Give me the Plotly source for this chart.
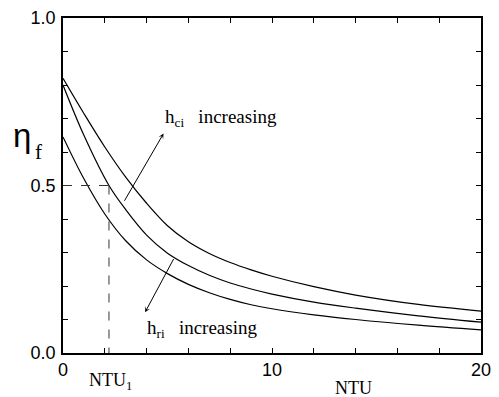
import plotly.graph_objects as go

# Fin efficiency eta_f versus NTU for three parameter combinations
ntu_top = [0, 1, 2, 3, 4, 5, 6, 7, 8, 9, 10, 12, 14, 17, 20]
eta_top = [0.82, 0.715, 0.615, 0.525, 0.447, 0.380, 0.332, 0.297, 0.270, 0.248, 0.229, 0.198, 0.173, 0.145, 0.125]

ntu_mid = [0, 1, 2.2, 3, 4, 5, 6, 7, 8, 9, 10, 12, 14, 17, 20]
eta_mid = [0.80, 0.65, 0.50, 0.428, 0.352, 0.298, 0.261, 0.232, 0.209, 0.191, 0.176, 0.152, 0.134, 0.111, 0.092]

ntu_low = [0, 1, 2, 3, 4, 5, 6, 7, 8, 9, 10, 12, 14, 17, 20]
eta_low = [0.645, 0.52, 0.415, 0.335, 0.278, 0.237, 0.205, 0.180, 0.160, 0.144, 0.132, 0.114, 0.100, 0.083, 0.069]

# Operating point marked with dashed guides
ntu_1 = 2.2
eta_1 = 0.5

# Tick positions and labels
x_tickvals = [0, 2, 4, 6, 8, 10, 12, 14, 16, 18, 20]
x_ticktext = ["0", "", "", "", "", "10", "", "", "", "", "20"]
y_tickvals = [0.0, 0.1, 0.2, 0.3, 0.4, 0.5, 0.6, 0.7, 0.8, 0.9, 1.0]
y_ticktext = ["0.0", "", "", "", "", "0.5", "", "", "", "", "1.0"]

W, H = 499, 397
L, R, T, B = 63, 8, 18, 44
PW, PH = W - L - R, H - T - B


def paper(px, py):
    """Convert a pixel position on the page to paper coordinates."""
    return (px - L) / PW, (H - B - py) / PH


fig = go.Figure()
for xs, ys in [(ntu_top, eta_top), (ntu_mid, eta_mid), (ntu_low, eta_low)]:
    fig.add_trace(go.Scatter(
        x=xs, y=ys, mode="lines",
        line=dict(color="black", width=1.2, shape="spline", smoothing=1.0),
        showlegend=False, hoverinfo="skip",
    ))

dash_line = dict(color="#333333", width=1, dash="dash")
fig.add_shape(type="line", x0=0, y0=eta_1, x1=ntu_1, y1=eta_1, line=dash_line)
fig.add_shape(type="line", x0=ntu_1, y0=eta_1, x1=ntu_1, y1=0, line=dash_line)

serif = "Liberation Serif, Times New Roman, serif"
sans = "Liberation Sans, Arial, sans-serif"

# Direction arrows
fig.add_annotation(x=4.81, y=0.655, ax=2.9, ay=0.45, xref="x", yref="y",
                   axref="x", ayref="y", showarrow=True, arrowhead=3,
                   arrowsize=0.9, arrowwidth=1, arrowcolor="black", text="")
fig.add_annotation(x=3.93, y=0.122, ax=5.33, ay=0.285, xref="x", yref="y",
                   axref="x", ayref="y", showarrow=True, arrowhead=3,
                   arrowsize=0.9, arrowwidth=1, arrowcolor="black", text="")

# Curve-family labels
x, y = paper(165, 118)
fig.add_annotation(x=x, y=y, xref="paper", yref="paper", showarrow=False,
                   xanchor="left", yanchor="middle",
                   text="h<sub>ci</sub>   increasing",
                   font=dict(family=serif, size=19, color="black"))
x, y = paper(147, 329)
fig.add_annotation(x=x, y=y, xref="paper", yref="paper", showarrow=False,
                   xanchor="left", yanchor="middle",
                   text="h<sub>ri</sub>   increasing",
                   font=dict(family=serif, size=19, color="black"))

# Axis titles
x, y = paper(21, 135)
fig.add_annotation(x=x, y=y, xref="paper", yref="paper", showarrow=False,
                   xanchor="center", yanchor="middle", text="η",
                   font=dict(family=sans, size=33, color="black"))
x, y = paper(38, 152)
fig.add_annotation(x=x, y=y, xref="paper", yref="paper", showarrow=False,
                   xanchor="center", yanchor="middle", text="f",
                   font=dict(family=serif, size=21, color="black"))
x, y = paper(360, 388)
fig.add_annotation(x=x, y=y, xref="paper", yref="paper", showarrow=False,
                   xanchor="center", yanchor="middle", text="NTU",
                   font=dict(family=serif, size=18, color="black"))
x, y = paper(112, 381)
fig.add_annotation(x=x, y=y, xref="paper", yref="paper", showarrow=False,
                   xanchor="center", yanchor="middle", text="NTU<sub>1</sub>",
                   font=dict(family=serif, size=18, color="black"))

axis_common = dict(
    showgrid=False, zeroline=False, showline=True, linecolor="black",
    linewidth=1.5, mirror="ticks", ticks="inside", ticklen=5,
    tickwidth=1, tickcolor="black", ticklabeloverflow="allow",
    tickfont=dict(family=sans, size=18, color="black"),
)
fig.update_xaxes(range=[0, 20], tickmode="array", tickvals=x_tickvals,
                 ticktext=x_ticktext, ticklabelstandoff=0, **axis_common)
fig.update_yaxes(range=[0, 1], tickmode="array", tickvals=y_tickvals,
                 ticktext=y_ticktext, ticklabelstandoff=2, **axis_common)

fig.update_layout(
    width=W, height=H,
    margin=dict(l=L, r=R, t=T, b=B, pad=0),
    plot_bgcolor="white", paper_bgcolor="white",
    showlegend=False,
)

fig.write_html("out.html")
